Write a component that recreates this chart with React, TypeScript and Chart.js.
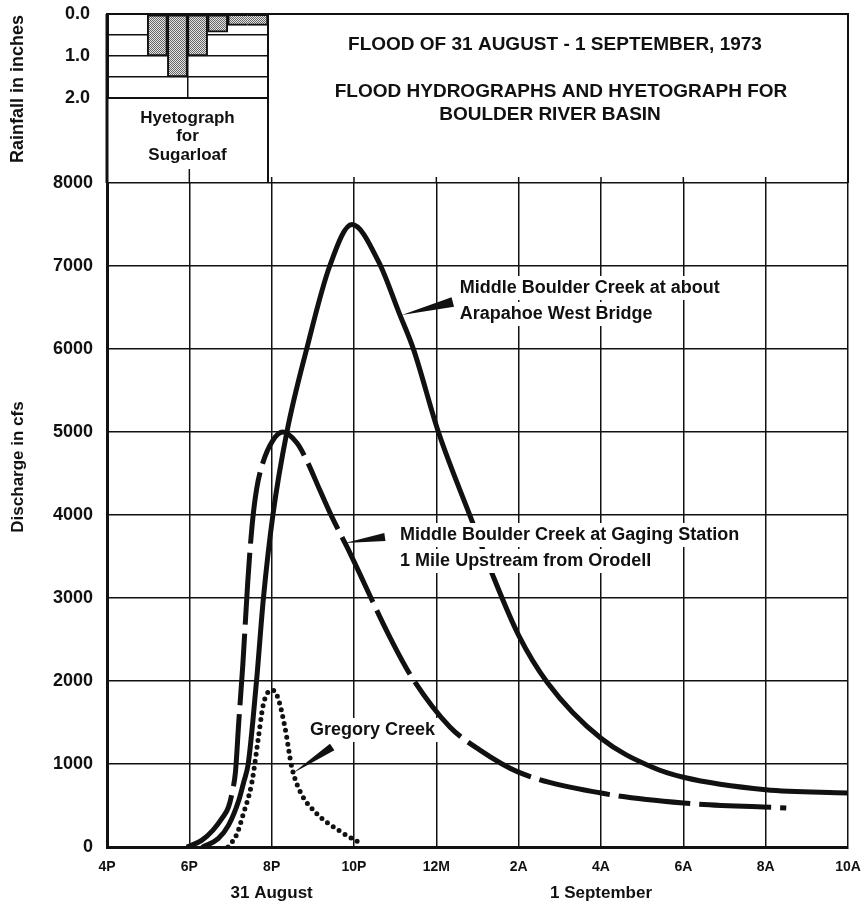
import React, { useEffect, useRef } from 'react';
import { Chart, registerables } from 'chart.js';

Chart.register(...registerables);

// ---------- data (hours after 4 P.M., 31 August) ----------
const xTickLabels = ['4P', '6P', '8P', '10P', '12M', '2A', '4A', '6A', '8A', '10A'];

const arapahoeHours = [2.33, 2.7, 2.95, 3.2, 3.32, 3.43, 3.54, 3.65, 3.8, 4.03, 4.37, 4.85, 5.41, 5.95, 6.6, 7.1, 7.45, 8.05, 8.85, 9.35, 10.0, 10.7, 12.0, 13.25, 14.0, 16.0, 18.0];
const arapahoeCfs = [0, 100, 260, 560, 780, 1000, 1500, 2100, 3000, 4000, 5000, 6000, 7000, 7500, 7050, 6430, 5990, 5000, 3950, 3300, 2550, 1980, 1310, 960, 840, 690, 650];

const gagingHours = [1.94, 2.3, 2.57, 2.8, 2.95, 3.05, 3.12, 3.2, 3.3, 3.42, 3.52, 3.63, 3.78, 4.03, 4.27, 4.61, 4.85, 5.17, 5.46, 5.83, 6.87, 7.4, 8.33, 9.05, 9.98, 12.0, 14.0, 16.5];
const gagingCfs = [0, 80, 200, 350, 480, 680, 900, 1500, 2200, 3200, 3850, 4300, 4620, 4900, 5000, 4870, 4660, 4300, 3980, 3615, 2530, 2050, 1446, 1170, 905, 650, 530, 470];

const gregoryHours = [2.94, 3.15, 3.3, 3.52, 3.67, 3.79, 3.92, 4.02, 4.15, 4.32, 4.49, 4.68, 5.1, 5.66, 6.14];
const gregoryCfs = [0, 150, 380, 780, 1290, 1700, 1870, 1890, 1800, 1450, 960, 680, 400, 190, 50];

// Sugarloaf hyetograph: half-hour slots (start hour after 4 P.M.) and rainfall in inches
const rainSlotStart = [1.0, 1.5, 2.0, 2.5, 3.0, 3.5];
const rainInches = [1.0, 1.5, 1.0, 0.43, 0.27, 0.27];
const rainTickLabels = ['0.0', '1.0', '2.0'];

const titleLines = ['FLOOD OF 31 AUGUST - 1 SEPTEMBER, 1973', 'FLOOD HYDROGRAPHS AND HYETOGRAPH FOR', 'BOULDER RIVER BASIN'];
const hyetoLabel = ['Hyetograph', 'for', 'Sugarloaf'];
const dateLabels = ['31 August', '1 September'];
const dateLabelHours = [4, 12];

// ---------- layout / style ----------
const W = 864;
const H = 911;
const BOX_TOP = 14;
const HYETO_RIGHT = 268;
const FONT = '"Liberation Sans", Arial, sans-serif';
const INK = '#111';

const notes = [
  { lines: ['Middle Boulder Creek at about', 'Arapahoe West Bridge'], at: [8.57, 6735], tip: [7.16, 6410], base: [8.4, 6566], hw: 5 },
  { lines: ['Middle Boulder Creek at Gaging Station', '1 Mile Upstream from Orodell'], at: [7.12, 3759], tip: [5.78, 3663], base: [6.75, 3735], hw: 4 },
  { lines: ['Gregory Creek'], at: [4.93, 1410], tip: [4.52, 892], base: [5.47, 1205], hw: 4 },
];

const toXY = (xs: number[], ys: number[]) => xs.map((x, i) => ({ x, y: ys[i] }));

const noPad = (w?: number, h?: number) => (s: any) => {
  s.paddingLeft = 0;
  s.paddingRight = 0;
  s.paddingTop = 0;
  s.paddingBottom = 0;
  if (w !== undefined) s.width = w;
  if (h !== undefined) s.height = h;
};

export default function App() {
  const mainRef = useRef<HTMLCanvasElement>(null);
  const rainRef = useRef<HTMLCanvasElement>(null);

  useEffect(() => {
    const decor = {
      id: 'decor',
      afterDraw(chart: any) {
        const { ctx, chartArea, scales } = chart;
        const { left, right, top } = chartArea;
        const xs = scales.x;
        const ys = scales.y;
        ctx.save();
        ctx.strokeStyle = INK;
        ctx.fillStyle = INK;
        // header box
        ctx.lineWidth = 2;
        ctx.beginPath();
        ctx.moveTo(left, BOX_TOP);
        ctx.lineTo(right + 1, BOX_TOP);
        ctx.moveTo(right, BOX_TOP);
        ctx.lineTo(right, top);
        ctx.moveTo(HYETO_RIGHT, BOX_TOP);
        ctx.lineTo(HYETO_RIGHT, top);
        ctx.stroke();
        ctx.lineWidth = 3;
        ctx.beginPath();
        ctx.moveTo(left, BOX_TOP);
        ctx.lineTo(left, top);
        ctx.stroke();
        // grid stubs above plot
        ctx.lineWidth = 1.5;
        ctx.beginPath();
        for (let v = 2; v < 18; v += 2) {
          const px = xs.getPixelForValue(v);
          const len = px < HYETO_RIGHT ? 14 : 6;
          ctx.moveTo(px, top);
          ctx.lineTo(px, top - len);
        }
        ctx.stroke();

        ctx.textBaseline = 'middle';
        ctx.textAlign = 'center';
        // title
        ctx.font = `bold 19px ${FONT}`;
        ctx.fillText(titleLines[0], 555, 45);
        ctx.fillText(titleLines[1], 561, 92);
        ctx.fillText(titleLines[2], 550, 115);
        // hyetograph caption
        ctx.font = `bold 17px ${FONT}`;
        const hx = (left + HYETO_RIGHT) / 2;
        hyetoLabel.forEach((t, i) => ctx.fillText(t, hx, 118 + i * 18.5));
        // date labels
        dateLabels.forEach((t, i) => ctx.fillText(t, xs.getPixelForValue(dateLabelHours[i]), 893));
        // y title
        ctx.save();
        ctx.translate(18, 467);
        ctx.rotate(-Math.PI / 2);
        ctx.fillText('Discharge in cfs', 0, 0);
        ctx.restore();

        // annotation labels (on white ground) with wedge leaders
        ctx.textAlign = 'left';
        ctx.font = `bold 18px ${FONT}`;
        notes.forEach((n) => {
          const tx = xs.getPixelForValue(n.at[0]);
          const ty = ys.getPixelForValue(n.at[1]);
          n.lines.forEach((t, i) => {
            const w = ctx.measureText(t).width;
            ctx.fillStyle = '#fff';
            ctx.fillRect(tx - 3, ty + i * 26 - 12, w + 6, 24);
          });
          ctx.fillStyle = INK;
          n.lines.forEach((t, i) => ctx.fillText(t, tx, ty + i * 26));
          const px = xs.getPixelForValue(n.tip[0]);
          const py = ys.getPixelForValue(n.tip[1]);
          const bx = xs.getPixelForValue(n.base[0]);
          const by = ys.getPixelForValue(n.base[1]);
          const dx = bx - px;
          const dy = by - py;
          const L = Math.hypot(dx, dy) || 1;
          const nx = -dy / L;
          const ny = dx / L;
          ctx.beginPath();
          ctx.moveTo(px, py);
          ctx.lineTo(bx + nx * n.hw, by + ny * n.hw);
          ctx.lineTo(bx - nx * n.hw, by - ny * n.hw);
          ctx.closePath();
          ctx.fill();
        });
        ctx.restore();
      },
    };

    const main = new Chart(mainRef.current as HTMLCanvasElement, {
      type: 'line',
      data: {
        datasets: [
          {
            label: 'Middle Boulder Creek at about Arapahoe West Bridge',
            data: toXY(arapahoeHours, arapahoeCfs),
            borderColor: INK,
            borderWidth: 5,
            pointRadius: 0,
            fill: false,
            cubicInterpolationMode: 'monotone',
            borderCapStyle: 'round',
          },
          {
            label: 'Middle Boulder Creek at Gaging Station 1 Mile Upstream from Orodell',
            data: toXY(gagingHours, gagingCfs),
            borderColor: INK,
            borderWidth: 5,
            pointRadius: 0,
            fill: false,
            cubicInterpolationMode: 'monotone',
            borderDash: [72, 9],
            borderCapStyle: 'butt',
          },
          {
            label: 'Gregory Creek',
            data: toXY(gregoryHours, gregoryCfs),
            borderColor: INK,
            borderWidth: 5,
            pointRadius: 0,
            fill: false,
            cubicInterpolationMode: 'monotone',
            borderDash: [0, 7],
            borderCapStyle: 'round',
          },
        ],
      },
      options: {
        responsive: false,
        animation: false,
        events: [],
        layout: { padding: { top: 183, right: W - 848, left: 0, bottom: 0 } },
        plugins: { legend: { display: false }, tooltip: { enabled: false } },
        scales: {
          x: {
            type: 'linear',
            min: 0,
            max: 18,
            afterFit: noPad(undefined, H - 847),
            ticks: {
              stepSize: 2,
              autoSkip: false,
              maxRotation: 0,
              padding: 12,
              color: INK,
              font: { family: FONT, size: 14, weight: 'bold' },
              callback: (v: any) => xTickLabels[Math.round(Number(v) / 2)],
            },
            grid: { color: INK, lineWidth: 1.5, drawTicks: false },
            border: { color: INK, width: 3 },
          },
          y: {
            type: 'linear',
            min: 0,
            max: 8000,
            afterFit: noPad(107, undefined),
            ticks: {
              stepSize: 1000,
              autoSkip: false,
              padding: 14,
              color: INK,
              font: { family: FONT, size: 18, weight: 'bold' },
              callback: (v: any) => String(v),
            },
            grid: { color: INK, lineWidth: 1.5, drawTicks: false },
            border: { color: INK, width: 3 },
          },
        },
      },
      plugins: [decor],
    } as any);

    // stipple pattern for the hyetograph bars
    const pc = document.createElement('canvas');
    pc.width = 2;
    pc.height = 2;
    const p = pc.getContext('2d') as CanvasRenderingContext2D;
    p.fillStyle = '#e4e4e4';
    p.fillRect(0, 0, 2, 2);
    p.fillStyle = '#666';
    p.fillRect(0, 0, 1, 1);
    p.fillRect(1, 1, 1, 1);
    const rctx = (rainRef.current as HTMLCanvasElement).getContext('2d') as CanvasRenderingContext2D;
    const pattern = rctx.createPattern(pc, 'repeat');

    const rainTitle = {
      id: 'rainTitle',
      afterDraw(chart: any) {
        const { ctx } = chart;
        ctx.save();
        ctx.fillStyle = INK;
        ctx.font = `bold 18px ${FONT}`;
        ctx.textAlign = 'center';
        ctx.textBaseline = 'middle';
        ctx.translate(18, 89);
        ctx.rotate(-Math.PI / 2);
        ctx.fillText('Rainfall in inches', 0, 0);
        ctx.restore();
      },
    };

    const last = rainSlotStart.length - 1;
    const rain = new Chart(rainRef.current as HTMLCanvasElement, {
      type: 'bar',
      data: {
        datasets: [
          {
            data: toXY(rainSlotStart.map((s) => s + 0.25), rainInches),
            backgroundColor: pattern,
            borderColor: INK,
            borderWidth: (c: any) => {
              const i = c.dataIndex;
              if (i === last - 1) return { top: 1.5, bottom: 2, left: 2, right: 0 };
              if (i === last) return { top: 1.5, bottom: 2, left: 0, right: 2 };
              return 2;
            },
            borderSkipped: false,
            barPercentage: 1,
            categoryPercentage: 1,
          },
        ],
      },
      options: {
        responsive: false,
        animation: false,
        events: [],
        layout: { padding: { top: BOX_TOP, bottom: 183 - 98, left: 0, right: 280 - HYETO_RIGHT } },
        plugins: { legend: { display: false }, tooltip: { enabled: false } },
        scales: {
          x: {
            type: 'linear',
            min: 0,
            max: 4,
            offset: false,
            z: 1,
            afterFit: noPad(undefined, 0),
            ticks: { display: false, stepSize: 2, autoSkip: false },
            grid: { color: INK, lineWidth: 1.5, drawTicks: false, offset: false },
            border: { color: INK, width: 2 },
          },
          y: {
            type: 'linear',
            min: 0,
            max: 2,
            reverse: true,
            z: 1,
            afterFit: noPad(107, undefined),
            ticks: {
              stepSize: 0.5,
              autoSkip: false,
              padding: 17,
              color: INK,
              font: { family: FONT, size: 18, weight: 'bold' },
              callback: (v: any) => (Number.isInteger(Number(v)) ? rainTickLabels[Number(v)] : ''),
            },
            grid: { color: INK, lineWidth: 1.5, drawTicks: false },
            border: { color: INK, width: 3 },
          },
        },
      },
      plugins: [rainTitle],
    } as any);

    return () => {
      main.destroy();
      rain.destroy();
    };
  }, []);

  return (
    <div style={{ position: 'absolute', left: 0, top: 0, width: W, height: H, background: '#fff' }}>
      <canvas ref={mainRef} width={W} height={H} style={{ position: 'absolute', left: 0, top: 0 }} />
      <canvas ref={rainRef} width={280} height={183} style={{ position: 'absolute', left: 0, top: 0 }} />
    </div>
  );
}
